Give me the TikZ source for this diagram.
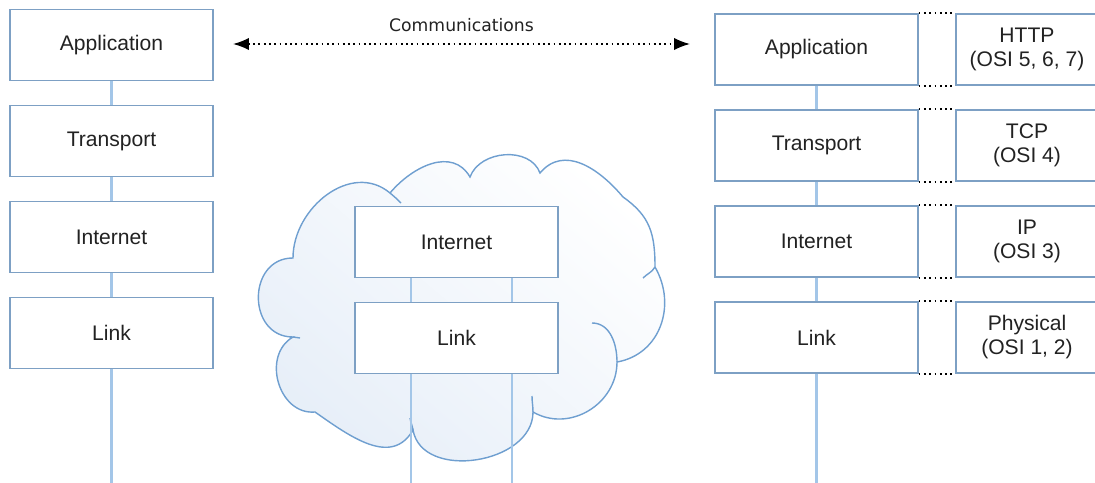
\documentclass[tikz,border=0pt]{standalone}
\usepackage{fontspec}
\setmainfont{Liberation Sans}
\newfontfamily\commfont{DejaVu Sans}
\usepackage{tikz}
\usetikzlibrary{arrows.meta}
\definecolor{boxblue}{HTML}{7DA0C4}
\definecolor{wireblue}{HTML}{A3C6E8}
\definecolor{cloudline}{HTML}{6F9FD0}
\definecolor{cloudfill}{HTML}{E6EEF8}
\definecolor{textgray}{HTML}{222222}
\tikzset{
  layer/.style={draw=boxblue, fill=white, line width=0.8pt, minimum width=4.06cm,
    minimum height=1.42cm, inner sep=0pt, text=textgray, font=\fontsize{12}{13.7}\selectfont},
  proto/.style={layer, minimum width=2.84cm, align=center},
  wire/.style={draw=wireblue, line width=1.2pt},
  dots/.style={dotted, line width=1pt},
  comm/.style={dots, {Latex[length=9pt,width=7pt]}-{Latex[length=9pt,width=7pt]}},
}
\begin{document}
\begin{tikzpicture}[x=0.02cm, y=0.02cm]
    \clip (0,0) rectangle (1095,-483);
    \shade[draw=cloudline, line width=0.8pt, shading=axis, top color=white, bottom color=cloudfill, shading angle=-40]
        (293,-258) to[out=180,in=180,looseness=1.5] (293,-337)
        to[out=210,in=185,looseness=1.2] (315,-412)
        to[out=-35,in=240,looseness=1.1] (413,-430)
        to[out=-80,in=-90,looseness=1.1] (533,-412)
        to[out=-30,in=-90,looseness=1.1] (617,-362)
        to[out=10,in=-60,looseness=1.1] (655,-267)
        to[out=90,in=-35,looseness=1.1] (623,-197)
        to[out=130,in=50,looseness=1.1] (540,-173)
        to[out=110,in=70,looseness=1.05] (470,-177)
        to[out=120,in=50,looseness=1.1] (390,-193)
        to[out=140,in=90,looseness=1.1] (293,-258) -- cycle;
    \draw[cloudline, line width=0.8pt] (390,-193) to[out=-40,in=135] (401,-203);
    \draw[cloudline, line width=0.8pt] (293,-337) to[out=-10,in=180] (300,-338);
    \draw[cloudline, line width=0.8pt] (655,-267) to[out=-120,in=45] (643,-278);
    \draw[cloudline, line width=0.8pt] (592,-323) to[out=0,in=90] (617,-362);
    \draw[cloudline, line width=0.8pt] (533,-412) to[out=90,in=-90] (532,-396);
    \draw[cloudline, line width=0.8pt] (413,-430) to[out=100,in=-80] (410,-418);

    \node[layer] (lapp) at (111.5,-45) {Application};
    \node[layer] (ltra) at (111.5,-141) {Transport};
    \node[layer] (lint) at (111.5,-237) {Internet};
    \node[layer] (llink) at (111.5,-333) {Link};
    \coordinate (lbot) at (111.5,-483);

    \node[layer] (mint) at (456.5,-242) {Internet};
    \node[layer] (mlink) at (456.5,-338) {Link};
    \coordinate (ma) at (411,-483);
    \coordinate (mb) at (512,-483);

    \node[layer] (rapp) at (816.5,-49.5) {Application};
    \node[layer] (rtra) at (816.5,-145.5) {Transport};
    \node[layer] (rint) at (816.5,-241.5) {Internet};
    \node[layer] (rlink) at (816.5,-337.5) {Link};
    \coordinate (rbot) at (816.5,-483);
    \node[proto] (rhttp) at (1027,-49.5) {HTTP\\(OSI 5, 6, 7)};
    \node[proto] (rtcp) at (1027,-145.5) {TCP\\(OSI 4)};
    \node[proto] (rip) at (1027,-241.5) {IP\\(OSI 3)};
    \node[proto] (rphy) at (1027,-337.5) {Physical\\(OSI 1, 2)};

    \coordinate (cl) at (233,-44);
    \coordinate (cr) at (690,-44);
    \draw[comm] (cl) -- node[above=3pt, font=\commfont\fontsize{9.8}{12}\selectfont, text=textgray] (comms) {Communications} (cr);

    \draw[wire] (lapp.south) -- (ltra.north);
    \draw[wire] (ltra.south) -- (lint.north);
    \draw[wire] (lint.south) -- (llink.north);
    \draw[wire] (llink.south) -- (lbot);

    \draw[wire] (ma |- mint.south) -- (ma |- mlink.north);
    \draw[wire] (mb |- mint.south) -- (mb |- mlink.north);
    \draw[wire] (ma |- mlink.south) -- (ma);
    \draw[wire] (mb |- mlink.south) -- (mb);

    \draw[wire] (rapp.south) -- (rtra.north);
    \draw[wire] (rtra.south) -- (rint.north);
    \draw[wire] (rint.south) -- (rlink.north);
    \draw[wire] (rlink.south) -- (rbot);

    \draw[dots] (rapp.north east) -- (rhttp.north west);
    \draw[dots] (rapp.south east) -- (rhttp.south west);
    \draw[dots] (rtra.north east) -- (rtcp.north west);
    \draw[dots] (rtra.south east) -- (rtcp.south west);
    \draw[dots] (rint.north east) -- (rip.north west);
    \draw[dots] (rint.south east) -- (rip.south west);
    \draw[dots] (rlink.north east) -- (rphy.north west);
    \draw[dots] (rlink.south east) -- (rphy.south west);
\end{tikzpicture}
\end{document}
